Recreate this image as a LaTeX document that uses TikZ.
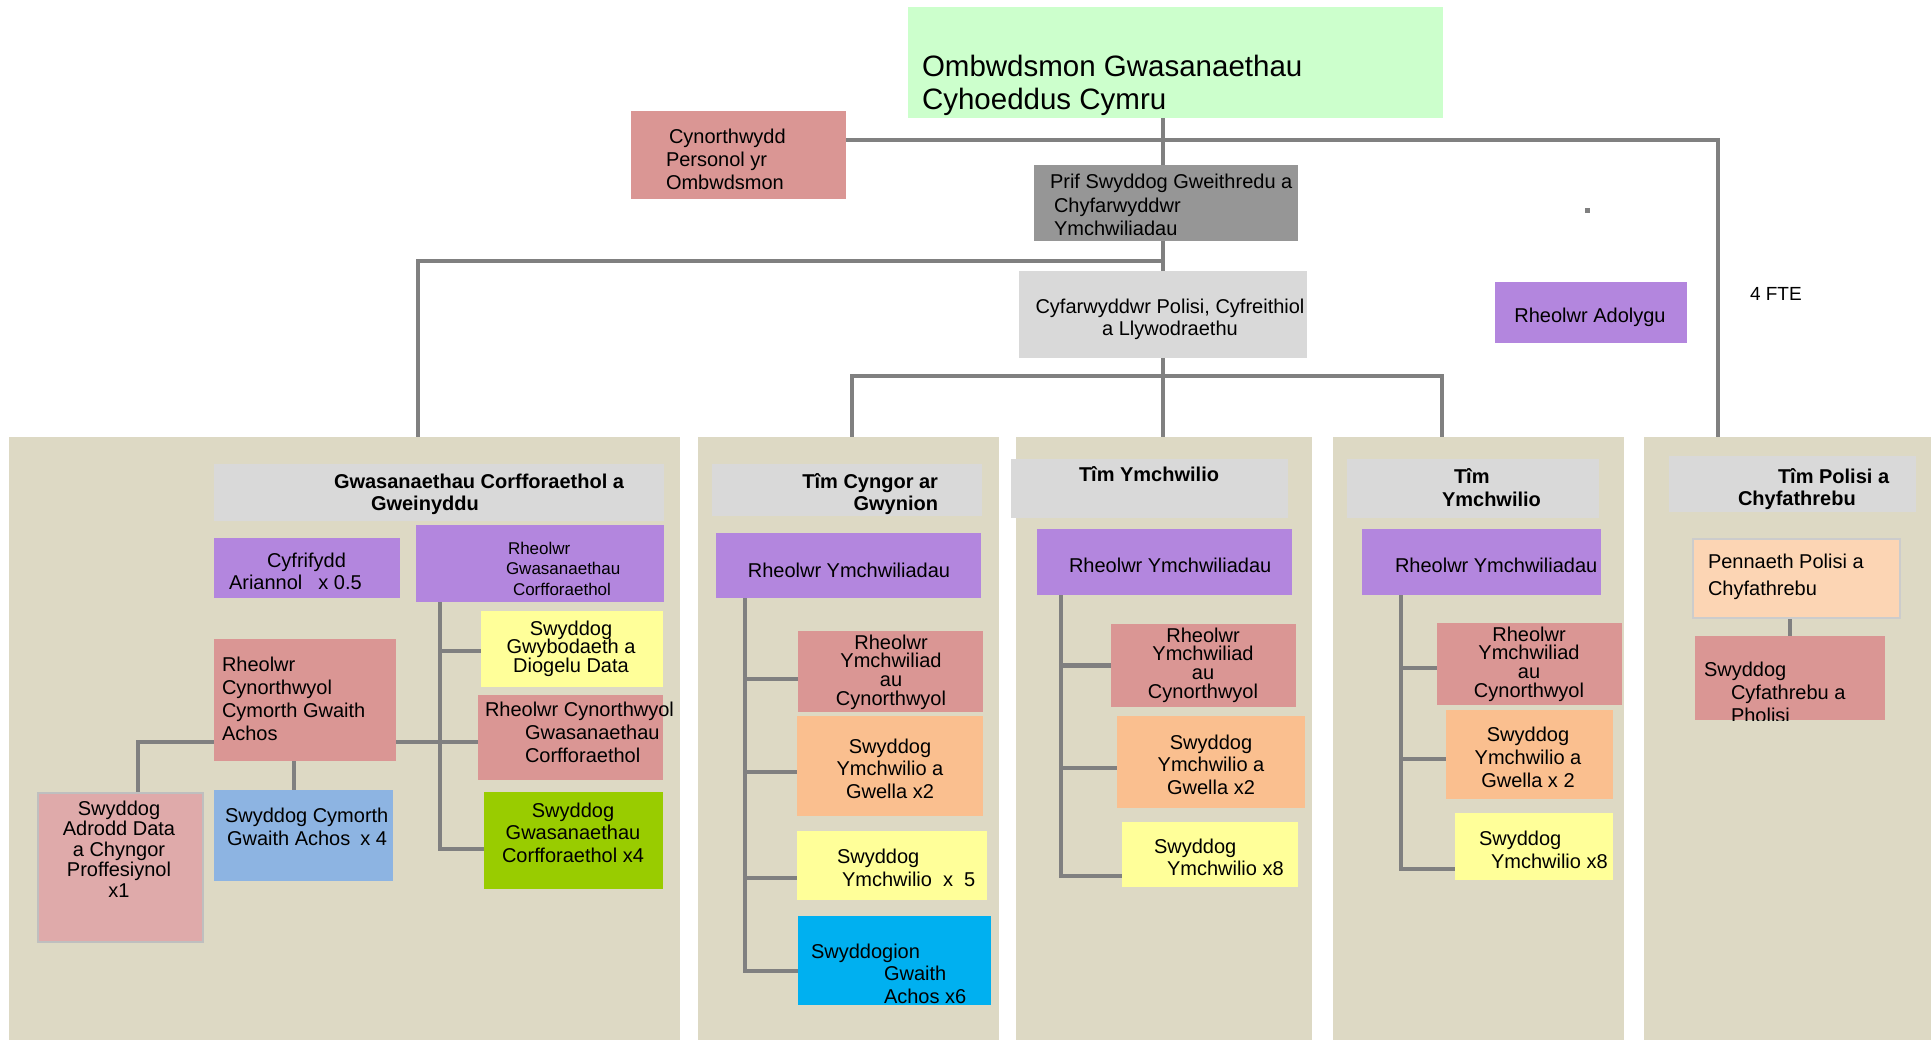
\documentclass[tikz,border=0pt]{standalone}
\usepackage{fontspec}
\setmainfont{Liberation Sans}
\usetikzlibrary{calc}
\pgfdeclarelayer{panels}\pgfdeclarelayer{lines}
\pgfsetlayers{panels,lines,main}
\definecolor{cgreen}{HTML}{CCFFCC}
\definecolor{cpink}{HTML}{DA9694}
\definecolor{cdgray}{HTML}{969696}
\definecolor{clgray}{HTML}{D9D9D9}
\definecolor{cpurp}{HTML}{B386DE}
\definecolor{cyel}{HTML}{FFFF99}
\definecolor{cora}{HTML}{FABF8F}
\definecolor{ccyan}{HTML}{00B0F0}
\definecolor{clime}{HTML}{99CC00}
\definecolor{cblue}{HTML}{8DB4E2}
\definecolor{cpeach}{HTML}{FCD5B4}
\definecolor{crose}{HTML}{DFAAAA}
\definecolor{cpanel}{HTML}{DDD9C4}
\definecolor{clin}{HTML}{808080}
\newcommand\myfs[2]{\fontsize{#1}{#2}\selectfont\lineskiplimit=-50pt\relax}
\newcommand\mybox[6]{\node[bx, fill=#6, minimum width={#4-#2}, minimum height={#5-#3}] (#1) at ({(#2+#4)/2},{(#3+#5)/2}) {};}
\newcommand\mytx[6]{\node[tx, anchor=#2, align=#3, font=#4] (#1) at (#5) {\rule{0pt}{1em}#6};}
\newcommand\branch[3]{\coordinate (tmp) at ([yshift=#2]#1.west); \draw[ln] (tmp) -- (tmp -| #3);}
\tikzset{
  bx/.style={rectangle, inner sep=0pt, outer sep=0pt, draw=none},
  ln/.style={draw=clin, line width=4.8pt},
  tx/.style={inner sep=0pt, outer sep=0pt, text=black},
}
\begin{document}
\begin{tikzpicture}[x=1pt,y=-1pt]
\begin{pgfonlayer}{panels}
\fill[white] (0,0) rectangle (1931,1040);
\useasboundingbox (0,0) rectangle (1931,1040);
\mybox{p1}{9}{437}{680}{1040}{cpanel}
\mybox{p2}{698}{437}{999}{1040}{cpanel}
\mybox{p3}{1016}{437}{1312}{1040}{cpanel}
\mybox{p4}{1333}{437}{1624}{1040}{cpanel}
\mybox{p5}{1644}{437}{1931}{1040}{cpanel}
\end{pgfonlayer}
\coordinate (p1top) at (418,437);
\coordinate (p2top) at (852,437);
\coordinate (p3top) at (1163,437);
\coordinate (p4top) at (1442,437);
\coordinate (p5top) at (1718,437);

% top boxes
\mybox{title}{908}{7}{1443}{118}{cgreen}
\mytx{titleT}{north west}{left}{\myfs{29.5}{33}}{922,47}{Ombwdsmon Gwasanaethau\\Cyhoeddus Cymru}
\mybox{pa}{631}{111}{846}{199}{cpink}
\mytx{paT}{north west}{left}{\myfs{20}{23}}{666,124}{\hspace*{3pt}Cynorthwydd\\Personol yr\\Ombwdsmon}
\mybox{prif}{1034}{165}{1298}{241}{cdgray}
\mytx{prifT}{north west}{left}{\myfs{20}{23.5}}{1050,169}{Prif Swyddog Gweithredu a\\\hspace*{4pt}Chyfarwyddwr\\\hspace*{4pt}Ymchwiliadau}
\mybox{cyf}{1019}{271}{1307}{358}{clgray}
\mytx{cyfT}{north}{center}{\myfs{20}{22}}{1170,294}{Cyfarwyddwr Polisi, Cyfreithiol\\a Llywodraethu}
\mybox{ado}{1495}{282}{1687}{343}{cpurp}
\mytx{adoT}{north}{center}{\myfs{20}{22}}{1590,303}{Rheolwr Adolygu}
\mytx{fteT}{north west}{left}{\myfs{19}{22}}{1750,282}{4 FTE}
\fill[clin] (1585,208) rectangle (1590,213);

% panel 1
\mybox{h1}{214}{464}{664}{521}{clgray}
\mytx{h1T}{north west}{left}{\myfs{20}{23}\bfseries}{334,468}{Gwasanaethau Corfforaethol a\\\hspace*{37pt}Gweinyddu}
\mybox{cyfr}{214}{538}{400}{598}{cpurp}
\mytx{cyfrT}{north west}{left}{\myfs{20}{22}}{229,547}{\hspace*{38pt}Cyfrifydd\\Ariannol\hspace{16pt}x 0.5}
\mybox{rgc}{416}{525}{664}{602}{cpurp}
\mytx{rgcT}{north west}{left}{\myfs{17}{20.5}}{506,537}{\hspace*{2pt}Rheolwr\\Gwasanaethau\\\hspace*{7pt}Corfforaethol}
\mybox{gwyb}{481}{611}{663}{687}{cyel}
\mytx{gwybT}{north}{center}{\myfs{20}{18.5}}{571,615}{Swyddog\\Gwybodaeth a\\Diogelu Data}
\mybox{rcgc}{478}{695}{663}{780}{cpink}
\mytx{rcgcT}{north west}{left}{\myfs{20}{23}}{485,696}{Rheolwr Cynorthwyol\\\hspace*{40pt}Gwasanaethau\\\hspace*{40pt}Corfforaethol}
\mybox{sgc}{484}{792}{663}{889}{clime}
\mytx{sgcT}{north}{center}{\myfs{20}{22.5}}{573,797}{Swyddog\\Gwasanaethau\\Corfforaethol x4}
\mybox{rcc}{214}{639}{396}{761}{cpink}
\mytx{rccT}{north west}{left}{\myfs{20}{23}}{222,651}{Rheolwr\\Cynorthwyol\\Cymorth Gwaith\\Achos}
\node[bx, fill=crose, draw=black!25, line width=2pt, minimum width=165pt, minimum height=149pt] (sad) at (120.5,867.5) {};
\mytx{sadT}{north}{center}{\myfs{20}{20.5}}{119,795}{Swyddog\\Adrodd Data\\a Chyngor\\Proffesiynol\\x1}
\mybox{scg}{214}{790}{393}{881}{cblue}
\mytx{scgT}{north west}{left}{\myfs{20}{23}}{225,802}{Swyddog Cymorth\\\hspace*{2pt}Gwaith Achos\hspace{10pt}x 4}

% panel 2
\mybox{h2}{712}{464}{982}{516}{clgray}
\mytx{h2T}{north east}{right}{\myfs{20}{22}\bfseries}{938,468}{Tîm Cyngor ar\\Gwynion}
\mybox{ry2}{716}{533}{981}{598}{cpurp}
\mytx{ry2T}{north}{center}{\myfs{20}{22}}{849,557}{Rheolwr Ymchwiliadau}
\mybox{rc2}{798}{631}{983}{712}{cpink}
\mytx{rc2T}{north}{center}{\myfs{20}{18.7}}{891,629}{Rheolwr\\Ymchwiliad\\au\\Cynorthwyol}
\mybox{so2}{797}{716}{983}{816}{cora}
\mytx{so2T}{north}{center}{\myfs{20}{22.5}}{890,733}{Swyddog\\Ymchwilio a\\Gwella x2}
\mybox{sy2}{797}{831}{987}{900}{cyel}
\mytx{sy2T}{north west}{left}{\myfs{20}{23}}{837,843}{Swyddog\\\hspace*{5pt}Ymchwilio\hspace{11pt}x\hspace{11pt}5}
\mybox{sg2}{798}{916}{991}{1005}{ccyan}
\mytx{sg2T}{north west}{left}{\myfs{20}{22.5}}{811,938}{Swyddogion\\\hspace*{73pt}Gwaith\\\hspace*{73pt}Achos x6}

% panel 3
\mybox{h3}{1011}{459}{1288}{518}{clgray}
\mytx{h3T}{north west}{left}{\myfs{20}{22}\bfseries}{1079,462}{Tîm Ymchwilio}
\mybox{ry3}{1037}{529}{1292}{595}{cpurp}
\mytx{ry3T}{north west}{left}{\myfs{20}{22}}{1069,552}{Rheolwr Ymchwiliadau}
\mybox{rc3}{1111}{624}{1296}{707}{cpink}
\mytx{rc3T}{north}{center}{\myfs{20}{18.7}}{1203,622}{Rheolwr\\Ymchwiliad\\au\\Cynorthwyol}
\mybox{so3}{1117}{716}{1305}{808}{cora}
\mytx{so3T}{north}{center}{\myfs{20}{22.5}}{1211,729}{Swyddog\\Ymchwilio a\\Gwella x2}
\mybox{sy3}{1122}{822}{1298}{887}{cyel}
\mytx{sy3T}{north west}{left}{\myfs{20}{22}}{1154,833}{Swyddog\\\hspace*{13pt}Ymchwilio x8}

% panel 4
\mybox{h4}{1347}{459}{1599}{518}{clgray}
\mytx{h4T}{north west}{left}{\myfs{20}{23}\bfseries}{1442,463}{\hspace*{12pt}Tîm\\Ymchwilio}
\mybox{ry4}{1362}{529}{1601}{595}{cpurp}
\mytx{ry4T}{north west}{left}{\myfs{20}{22}}{1395,552}{Rheolwr Ymchwiliadau}
\mybox{rc4}{1437}{623}{1622}{705}{cpink}
\mytx{rc4T}{north}{center}{\myfs{20}{18.7}}{1529,621}{Rheolwr\\Ymchwiliad\\au\\Cynorthwyol}
\mybox{so4}{1446}{710}{1613}{799}{cora}
\mytx{so4T}{north}{center}{\myfs{20}{23}}{1528,721}{Swyddog\\Ymchwilio a\\Gwella x 2}
\mybox{sy4}{1455}{813}{1613}{880}{cyel}
\mytx{sy4T}{north west}{left}{\myfs{20}{23}}{1479,825}{Swyddog\\\hspace*{12pt}Ymchwilio x8}

% panel 5
\mybox{h5}{1669}{456}{1916}{512}{clgray}
\mytx{h5T}{north west}{left}{\myfs{20}{22}\bfseries}{1738,463}{\hspace*{40pt}Tîm Polisi a\\Chyfathrebu}
\node[bx, fill=cpeach, draw=black!20, line width=1.5pt, minimum width=207pt, minimum height=79pt] (pen) at (1796.5,578.5) {};
\mytx{penT}{north west}{left}{\myfs{20}{27}}{1708,548}{Pennaeth Polisi a\\Chyfathrebu}
\mybox{scp}{1695}{636}{1885}{720}{cpink}
\begin{scope}
\clip (scp.south west) rectangle (scp.north east);
\mytx{scpT}{north west}{left}{\myfs{20}{23}}{1704,656}{Swyddog\\\hspace*{27pt}Cyfathrebu a\\\hspace*{27pt}Pholisi}
\end{scope}

% connectors
\begin{pgfonlayer}{lines}
\draw[ln] (title.south -| cyf.north) -- (prif.north -| cyf.north);
\draw[ln] (prif.south -| cyf.north) -- (cyf.north);
\draw[ln] ([yshift=15pt]pa.east) -| (p5top);
\coordinate (j1) at (1163,261);
\draw[ln] (j1) -| (p1top);
\draw[ln] (cyf.south) -- (p3top);
\coordinate (j2) at (1163,376);
\draw[ln] (p2top) |- (j2) -| (p4top);
% panel 1
\coordinate (t1) at (440,851);
\draw[ln] (t1 |- rgc.south) -- (t1);
\branch{gwyb}{-2pt}{t1}
\branch{sgc}{-8.5pt}{t1}
\coordinate (r742) at ([yshift=-42pt]rcc.east);
\draw[ln] (r742) -- (r742 -| rcgc.west);
\coordinate (sadtop) at (138,792);
\draw[ln] ([yshift=-42pt]rcc.west) -| (sadtop);
\coordinate (rccb) at ([xshift=-11pt]rcc.south);
\draw[ln] (rccb) -- (rccb |- scg.north);
% panel 2
\coordinate (t2) at (745,973);
\draw[ln] (t2 |- ry2.south) -- (t2);
\branch{rc2}{-7.5pt}{t2}
\branch{so2}{-6pt}{t2}
\branch{sy2}{-12.5pt}{t2}
\branch{sg2}{-10.5pt}{t2}
% panel 3
\coordinate (t3) at (1061,878);
\draw[ln] (t3 |- ry3.south) -- (t3);
\branch{rc3}{0pt}{t3}
\branch{so3}{-6pt}{t3}
\branch{sy3}{-21.5pt}{t3}
% panel 4
\coordinate (t4) at (1401,871);
\draw[ln] (t4 |- ry4.south) -- (t4);
\branch{rc4}{-4pt}{t4}
\branch{so4}{-4.5pt}{t4}
\branch{sy4}{-22.5pt}{t4}
% panel 5
\draw[ln] (scp.north) -- (scp.north |- pen.south);
\end{pgfonlayer}
\end{tikzpicture}
\end{document}
